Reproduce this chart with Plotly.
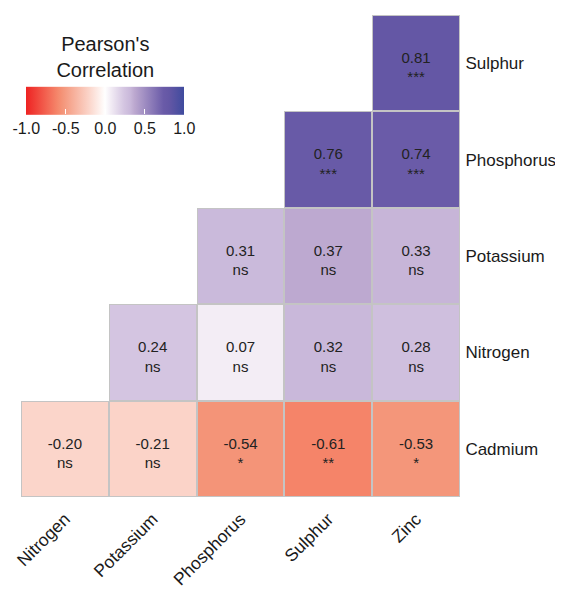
import plotly.graph_objects as go

x_labels = ["Nitrogen", "Potassium", "Phosphorus", "Sulphur", "Zinc"]
y_labels = ["Cadmium", "Nitrogen", "Potassium", "Phosphorus", "Sulphur"]

r_cadmium = [-0.20, -0.21, -0.54, -0.61, -0.53]
r_nitrogen = [None, 0.24, 0.07, 0.32, 0.28]
r_potassium = [None, None, 0.31, 0.37, 0.33]
r_phosphorus = [None, None, None, 0.76, 0.74]
r_sulphur = [None, None, None, None, 0.81]

s_cadmium = ["ns", "ns", "*", "**", "*"]
s_nitrogen = [None, "ns", "ns", "ns", "ns"]
s_potassium = [None, None, "ns", "ns", "ns"]
s_phosphorus = [None, None, None, "***", "***"]
s_sulphur = [None, None, None, None, "***"]

cb_ticks = [-1.0, -0.5, 0.0, 0.5, 1.0]
cb_ticktext = ["-1.0", "-0.5", "0.0", "0.5", "1.0"]

z = [r_cadmium, r_nitrogen, r_potassium, r_phosphorus, r_sulphur]
sig = [s_cadmium, s_nitrogen, s_potassium, s_phosphorus, s_sulphur]
border = [[(None if v is None else 1) for v in zr] for zr in z]

# cell labels, placed through the category axes
lab_x, lab_y, lab_t = [], [], []
for yi, (zr, sr) in enumerate(zip(z, sig)):
    for xi, (v, s) in enumerate(zip(zr, sr)):
        if v is not None:
            lab_x.append(x_labels[xi])
            lab_y.append(y_labels[yi])
            lab_t.append(f"{v:.2f}<br>{s}")

colorscale = [
    [0.0, "#EE2222"],
    [0.2, "#F5876B"],
    [0.23, "#F49478"],
    [0.4, "#FBD5CA"],
    [0.5, "#FFFFFF"],
    [0.535, "#F3EDF5"],
    [0.62, "#D4C5E1"],
    [0.66, "#C9B8DA"],
    [0.685, "#BDA9D0"],
    [0.87, "#6A5BA8"],
    [0.905, "#6457A5"],
    [1.0, "#3F4B9E"],
]

FONT = "Liberation Sans, Arial, sans-serif"
W, H = 555, 589

fig = go.Figure()
fig.add_trace(go.Heatmap(
    x=x_labels, y=y_labels, z=border,
    colorscale=[[0, "#C4C4C4"], [1, "#C4C4C4"]],
    showscale=False, hoverinfo="skip",
))
fig.add_trace(go.Heatmap(
    x=x_labels, y=y_labels, z=z,
    zmin=-1, zmax=1, colorscale=colorscale,
    xgap=2, ygap=2,
    colorbar=dict(
        orientation="h",
        xref="container", yref="container",
        x=123 / W, xanchor="center",
        y=(H - 135) / H, yanchor="bottom",
        lenmode="pixels", len=158,
        thickness=28,
        xpad=0, ypad=0,
        outlinewidth=0,
        tickvals=cb_ticks, ticktext=cb_ticktext,
        ticks="inside", tickcolor="white", ticklen=5,
        tickfont=dict(family=FONT, size=16, color="#1a1a1a"),
        title=dict(text="Pearson's<br>Correlation", side="top",
                   font=dict(family=FONT, size=20, color="#1a1a1a")),
    ),
))
fig.add_trace(go.Scatter(
    x=lab_x, y=lab_y, text=lab_t, mode="text",
    textposition="middle center",
    textfont=dict(family=FONT, size=15, color="#222222"),
    yaxis="y2", showlegend=False, hoverinfo="skip",
))

fig.update_layout(
    width=W, height=H,
    margin=dict(l=13, r=103, t=7, b=100, autoexpand=False),
    plot_bgcolor="white", paper_bgcolor="white",
    font=dict(family=FONT),
    showlegend=False,
    yaxis2=dict(overlaying="y", visible=False, type="category",
                categoryorder="array", categoryarray=y_labels,
                range=[-0.44, 4.56]),
)
fig.update_xaxes(
    showgrid=False, zeroline=False, tickangle=-45,
    ticks="outside", ticklen=4, tickcolor="rgba(0,0,0,0)",
    tickfont=dict(family=FONT, size=17.5, color="#1a1a1a"),
    categoryorder="array", categoryarray=x_labels,
    range=[-0.5, 4.5],
)
fig.update_layout(yaxis=dict(
    showgrid=False, zeroline=False, side="right",
    ticks="outside", ticklen=1, tickcolor="rgba(0,0,0,0)",
    tickfont=dict(family=FONT, size=17, color="#1a1a1a"),
    categoryorder="array", categoryarray=y_labels,
    range=[-0.5, 4.5],
))

fig.write_html("out.html")
